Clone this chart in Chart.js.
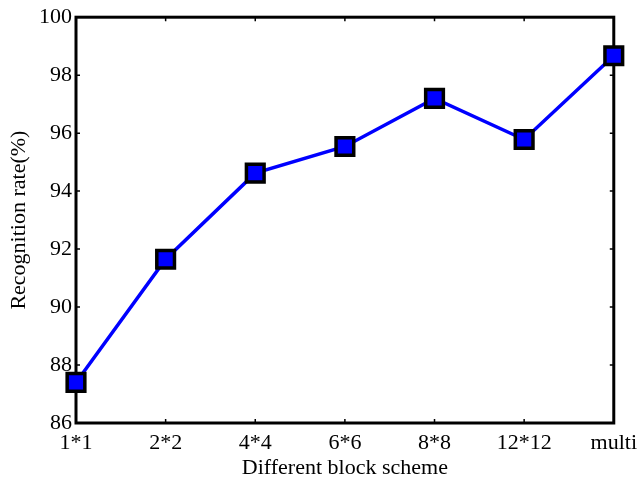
<!DOCTYPE html>
<html>
<head>
<meta charset="utf-8">
<script src="https://cdn.jsdelivr.net/npm/chart.js@4/dist/chart.umd.min.js"></script>
<style>
html,body{margin:0;padding:0;background:#fff;}
#wrap{width:644px;height:481px;position:relative;}
</style>
</head>
<body>
<div id="wrap"><canvas id="c" width="644" height="481"></canvas></div>
<script>
const categories = ['1*1','2*2','4*4','6*6','8*8','12*12','multi'];
const recognitionRate = [87.40, 91.65, 94.62, 95.54, 97.20, 95.78, 98.67];
const yTicks = [86, 88, 90, 92, 94, 96, 98, 100];

const FONT = 'Liberation Serif, "Times New Roman", serif';

const boxPlugin = {
  id: 'box',
  beforeDatasetsDraw(chart) {
    const {ctx, chartArea: a, scales} = chart;
    ctx.save();
    ctx.strokeStyle = '#000';
    ctx.lineWidth = 1.5;
    const tl = 4;
    ctx.beginPath();
    scales.y.ticks.forEach((t, i) => {
      const y = scales.y.getPixelForTick(i);
      ctx.moveTo(a.left, y); ctx.lineTo(a.left + tl, y);
      ctx.moveTo(a.right, y); ctx.lineTo(a.right - tl, y);
    });
    scales.x.ticks.forEach((t, i) => {
      const x = scales.x.getPixelForTick(i);
      ctx.moveTo(x, a.bottom); ctx.lineTo(x, a.bottom - tl);
      ctx.moveTo(x, a.top); ctx.lineTo(x, a.top + tl);
    });
    ctx.stroke();
    ctx.lineWidth = 3;
    ctx.strokeRect(a.left, a.top, a.right - a.left, a.bottom - a.top);
    ctx.restore();
  }
};

new Chart(document.getElementById('c'), {
  type: 'line',
  data: {
    labels: categories,
    datasets: [{
      data: recognitionRate,
      borderColor: '#0000ff',
      borderWidth: 3.5,
      backgroundColor: '#0000ff',
      pointStyle: 'rect',
      pointRadius: 12.5,
      pointHoverRadius: 12.5,
      pointBorderWidth: 3.5,
      pointBorderColor: '#000',
      pointBackgroundColor: '#0000ff',
      tension: 0,
      clip: false
    }]
  },
  options: {
    responsive: false,
    animation: false,
    events: [],
    layout: {padding: {left: 0, right: 24, top: 12, bottom: 0}},
    plugins: {legend: {display: false}, tooltip: {enabled: false}},
    scales: {
      x: {
        type: 'category',
        offset: false,
        grid: {display: false, drawTicks: false},
        border: {display: false},
        ticks: {autoSkip: false, maxRotation: 0, color: '#000', padding: 7, font: {family: FONT, size: 22}},
        title: {display: true, text: 'Different block scheme', color: '#000', padding: {top: -2, bottom: 0}, font: {family: FONT, size: 22}},
        afterFit(s) { s.height = 58; }
      },
      y: {
        min: 86, max: 100,
        afterBuildTicks(s) { s.ticks = yTicks.map(v => ({value: v})); },
        grid: {display: false, drawTicks: false},
        border: {display: false},
        ticks: {color: '#000', padding: 4, font: {family: FONT, size: 22}},
        title: {display: true, text: 'Recognition rate(%)', color: '#000', padding: {top: 6, bottom: 4}, font: {family: FONT, size: 22}},
        afterFit(s) { s.width = 76; }
      }
    }
  },
  plugins: [boxPlugin]
});
</script>
</body>
</html>
